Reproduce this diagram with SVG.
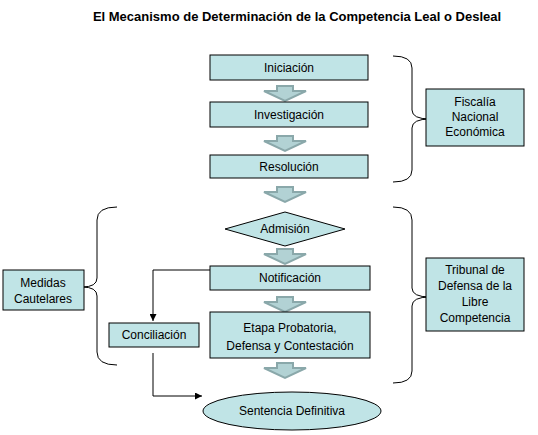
<svg xmlns="http://www.w3.org/2000/svg" width="538" height="435" viewBox="0 0 538 435">
<style>
.box{fill:#c0e4e6;stroke:#000;stroke-width:1}
.t{font-family:"Liberation Sans",Arial,sans-serif;font-size:12px;fill:#000;text-anchor:middle}
.ttl{font-family:"Liberation Sans",Arial,sans-serif;font-size:13px;font-weight:bold;fill:#000;text-anchor:middle}
.brace{fill:none;stroke:#000;stroke-width:1}
.ln{fill:none;stroke:#000;stroke-width:1}
.blk{fill:#b2d2d4;stroke:#8aa8aa;stroke-width:2;stroke-linejoin:miter}
</style>
<defs>
<marker id="ah" viewBox="0 0 10 10" refX="10" refY="5" markerWidth="7" markerHeight="7" orient="auto" markerUnits="userSpaceOnUse">
<path d="M0,0 L10,5 L0,10 Z" fill="#000"/>
</marker>
<path id="barrow" d="M-8,0 L8,0 L8,5 L21,5 L0,15 L-21,5 L-8,5 Z"/>
</defs>
<rect width="538" height="435" fill="#fff"/>
<text class="ttl" x="297" y="21">El Mecanismo de Determinación de la Competencia Leal o Desleal</text>

<g id="connectors">
<use href="#barrow" class="blk" x="285" y="86"/>
<use href="#barrow" class="blk" x="285" y="136"/>
<use href="#barrow" class="blk" x="285" y="187"/>
<use href="#barrow" class="blk" x="285" y="249"/>
<use href="#barrow" class="blk" x="285" y="297"/>
<use href="#barrow" class="blk" x="285" y="363"/>
<path class="ln" d="M210,270 L153,270 L153,321" marker-end="url(#ah)"/>
<path class="ln" d="M153,353 L153,396 L202,396" marker-end="url(#ah)"/>
<path class="brace" d="M393,56 Q412,56 412,68 L412,110 Q412,119 430,119 Q412,119 412,128 L412,170 Q412,182 393,182"/>
<path class="brace" d="M393,207 Q412,207 412,220 L412,288 Q412,297 430,297 Q412,297 412,306 L412,371 Q412,383 393,383"/>
<path class="brace" d="M117,207 Q97,207 97,220 L97,278 Q97,287 82,287 Q97,287 97,296 L97,352 Q97,365 117,365"/>
</g>

<g id="iniciacion"><rect class="box" x="210" y="55" width="158" height="25"/><text class="t" x="289" y="72">Iniciación</text></g>
<g id="investigacion"><rect class="box" x="210" y="102" width="158" height="25"/><text class="t" x="289" y="119">Investigación</text></g>
<g id="resolucion"><rect class="box" x="210" y="155" width="158" height="23"/><text class="t" x="289" y="171">Resolución</text></g>
<g id="admision"><polygon class="box" points="225,229 285,212 345,229 285,246"/><text class="t" x="285" y="233">Admisión</text></g>
<g id="notificacion"><rect class="box" x="210" y="266" width="160" height="24"/><text class="t" x="290" y="282">Notificación</text></g>
<g id="etapa"><rect class="box" x="210" y="312" width="160" height="46"/><text class="t" x="290" y="332">Etapa Probatoria,</text><text class="t" x="290" y="350">Defensa y Contestación</text></g>
<g id="sentencia"><ellipse class="box" cx="292" cy="411" rx="89" ry="19"/><text class="t" x="292" y="415">Sentencia Definitiva</text></g>
<g id="conciliacion"><rect class="box" x="109" y="323" width="90" height="24"/><text class="t" x="154" y="339">Conciliación</text></g>
<g id="medidas"><rect class="box" x="3" y="270" width="81" height="40"/><text class="t" x="43" y="287">Medidas</text><text class="t" x="43" y="303">Cautelares</text></g>
<g id="fiscalia"><rect class="box" x="426" y="89" width="98" height="57"/><text class="t" x="475" y="106">Fiscalía</text><text class="t" x="475" y="121">Nacional</text><text class="t" x="475" y="136">Económica</text></g>
<g id="tribunal"><rect class="box" x="426" y="258" width="98" height="73"/><text class="t" x="475" y="274">Tribunal de</text><text class="t" x="475" y="290">Defensa de la</text><text class="t" x="475" y="306">Libre</text><text class="t" x="475" y="322">Competencia</text></g>
</svg>
